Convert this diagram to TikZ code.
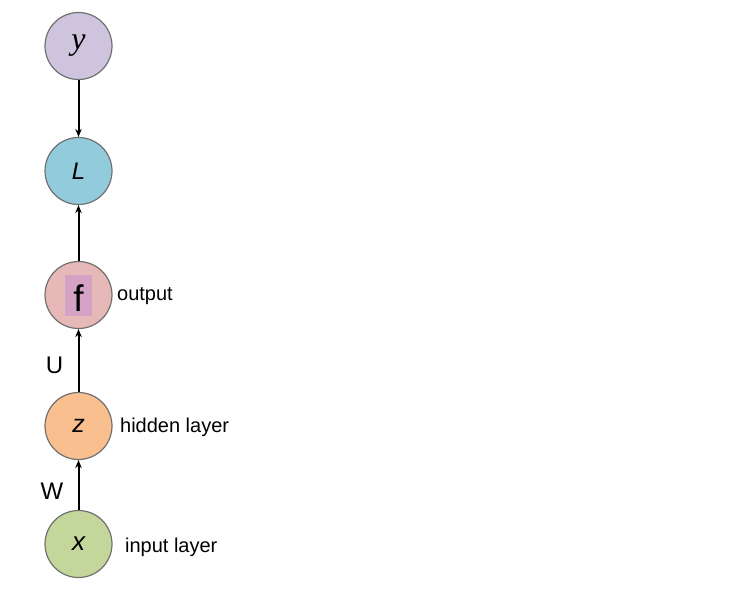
\documentclass[tikz,border=0pt]{standalone}
\usepackage{fontspec}
\setmainfont{Liberation Sans}
\newfontfamily\serifit{Liberation Serif}
\usetikzlibrary{arrows.meta,positioning}

\definecolor{colY}{HTML}{CEC4DE}
\definecolor{colL}{HTML}{92CCDC}
\definecolor{colF}{HTML}{E6B8B7}
\definecolor{colZ}{HTML}{F9BF8F}
\definecolor{colX}{HTML}{C4D79B}
\definecolor{colBox}{HTML}{D4A2C4}
\definecolor{rim}{HTML}{707070}

\begin{document}
\begin{tikzpicture}[x=1pt,y=1pt,on grid,>={Stealth[length=8pt,width=6.5pt]}]
  % unit circles of the net
  \tikzstyle{unit}=[circle,draw=rim,line width=1.2pt,minimum size=67pt,inner sep=0pt]
  \tikzstyle{side}=[anchor=west,font=\fontsize{20}{22}\selectfont]
  \tikzstyle{wlabel}=[font=\fontsize{24}{26}\selectfont]
  \tikzstyle{link}=[->,draw,line width=2pt]

  \useasboundingbox (0,0) rectangle (750,-590);

  \node[unit, fill=colX] (nx) at (78.5,-544) {\fontsize{26}{28}\selectfont\itshape x};
  \node[unit, fill=colZ] (nz) [above=118pt of nx] {\fontsize{25}{26}\selectfont\itshape z};
  \node[unit, fill=colF] (nf) [above=131pt of nz] {};
  \node[fill=colBox, minimum width=27pt, minimum height=41pt, inner sep=0pt] (fbox) at (nf) {};
  \node (ftext) at ([yshift=-3pt]nf) {\fontsize{37}{38}\selectfont f};
  \node[unit, fill=colL] (nL) [above=124pt of nf] {\fontsize{24}{26}\selectfont\itshape L};
  \node[unit, fill=colY] (ny) [above=125pt of nL] {\fontsize{32}{34}\selectfont\serifit\itshape y};

  \node[side] (lout) at ([xshift=1pt,yshift=-1pt]nf.east) {output};
  \node[side] (lhid) at ([xshift=4pt,yshift=-1pt]nz.east) {hidden layer};
  \node[side] (linp) at ([xshift=9pt,yshift=-3pt]nx.east) {input layer};

  \path (ny) edge[link] (nL);
  \path (nf) edge[link] (nL);
  \path (nz) edge[link] node[wlabel, left=11pt, yshift=-5pt] (lU) {U} (nf);
  \path (nx) edge[link] node[wlabel, left=11pt, yshift=-6pt] (lW) {W} (nz);
\end{tikzpicture}
\end{document}
